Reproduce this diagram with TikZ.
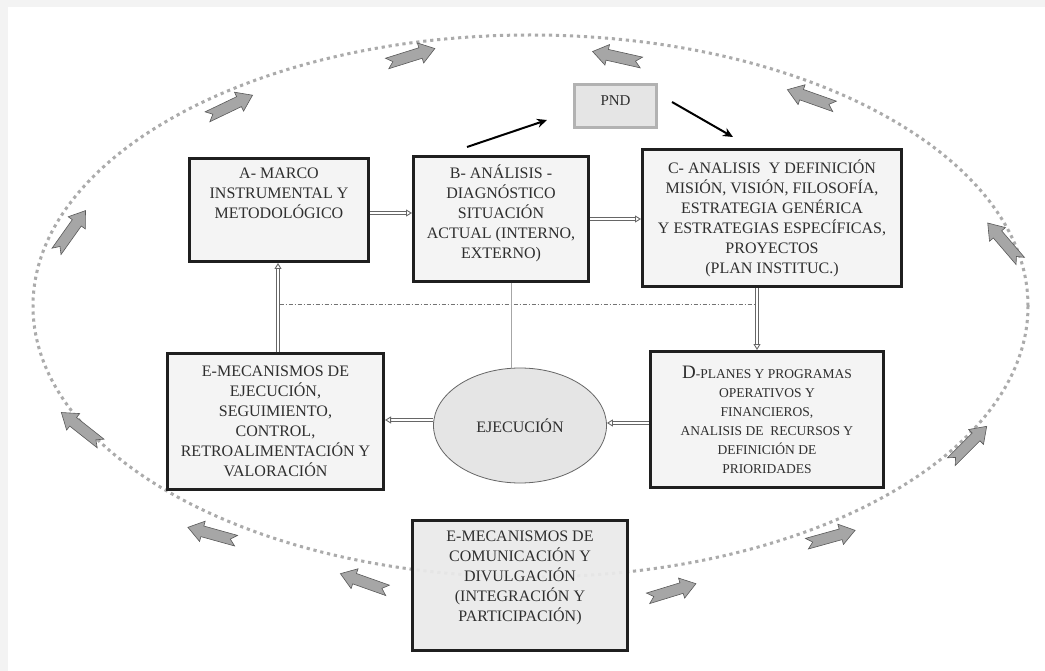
\documentclass[tikz,border=0pt]{standalone}
\usepackage{fontspec}
\setmainfont{Liberation Serif}
\usetikzlibrary{arrows.meta,shapes.geometric,calc}
\definecolor{ink}{HTML}{2E2E2E}
\definecolor{boxfill}{HTML}{F4F4F4}
\definecolor{darkfill}{HTML}{EAEAEA}
\definecolor{ringgray}{HTML}{ABABAB}
\definecolor{pagegray}{HTML}{F3F3F3}
\tikzset{
  txt/.style={font=\fontsize{16}{20}\selectfont, text=ink, align=center, inner sep=0pt},
  smalltxt/.style={font=\fontsize{13.5}{19}\selectfont, text=ink, align=center, inner sep=0pt},
  stagebox/.style={draw=black!88, line width=3pt, fill=boxfill, inner sep=0pt},
  dbl/.style={draw=black!60, line width=0.9pt, double=white, double distance=2pt,
    -{Triangle[open,length=6pt,width=7pt]}},
  blk/.style={draw=black, line width=2pt, -{Stealth[length=10pt,width=9pt]}},
  dotring/.style={draw=ringgray, line width=3pt, dash pattern=on 3.2pt off 3.8pt},
  arrowfill/.style={fill=black!35, draw=black!65, line width=0.6pt, line join=miter},
  flowarr/.pic={\path[arrowfill] (-25,-5.5) -- (10,-5.5) -- (10,-10.5) -- (25,0) -- (10,10.5)
     -- (10,5.5) -- (-25,5.5) -- (-19,0) -- cycle;}
}
\begin{document}
\begin{tikzpicture}[x=1pt,y=-1pt]
\useasboundingbox (0,0) rectangle (1045,671);
\fill[pagegray] (0,0) rectangle (1045,671);
\fill[white] (8,7) rectangle (1045,671);

% surrounding dotted cycle
\draw[dotring] (530.5,306) ellipse [x radius=497.5, y radius=271];

% direction arrows along the cycle
\pic[rotate=54.6]  at (71,231)  {flowarr};
\pic[rotate=25.6]  at (230,106) {flowarr};
\pic[rotate=17.4]  at (411,56)  {flowarr};
\pic[rotate=167.3] at (617,57)  {flowarr};
\pic[rotate=160.5] at (811,98)  {flowarr};
\pic[rotate=130.6] at (1004,242) {flowarr};
\pic[rotate=45]    at (969,444) {flowarr};
\pic[rotate=15.5]  at (831,537) {flowarr};
\pic[rotate=17]    at (672,591) {flowarr};
\pic[rotate=160.5] at (364,582) {flowarr};
\pic[rotate=164.5] at (212,534) {flowarr};
\pic[rotate=141.7] at (81,428)  {flowarr};

% stages
\node[stagebox, minimum width=179, minimum height=103] (A) at (279,210) {};
\node[txt, anchor=north] (Atxt) at ([yshift=-11pt]A.north)
  {A- MARCO\\INSTRUMENTAL Y\\METODOLÓGICO};

\node[stagebox, minimum width=175, minimum height=125] (B) at (501,219) {};
\node[txt] (Btxt) at ([yshift=6pt]B.center)
  {B- ANÁLISIS -\\DIAGNÓSTICO\\SITUACIÓN\\ACTUAL (INTERNO,\\EXTERNO)};

\node[stagebox, minimum width=259, minimum height=137, txt] (C) at (772,218)
  {C- ANALISIS\ \ Y DEFINICIÓN\\MISIÓN, VISIÓN, FILOSOFÍA,\\ESTRATEGIA GENÉRICA\\
   Y ESTRATEGIAS ESPECÍFICAS,\\PROYECTOS\\(PLAN INSTITUC.)};

\node[stagebox, minimum width=233, minimum height=136, smalltxt] (D) at (767,419.5)
  {{\fontsize{19}{19}\selectfont D}-PLANES Y PROGRAMAS\\OPERATIVOS Y\\FINANCIEROS,\\
   ANALISIS DE\ \ RECURSOS Y\\DEFINICIÓN DE\\PRIORIDADES};

\node[stagebox, minimum width=216, minimum height=136, txt] (E1) at (275.5,421.5)
  {E-MECANISMOS DE\\EJECUCIÓN,\\SEGUIMIENTO,\\CONTROL,\\RETROALIMENTACIÓN Y\\VALORACIÓN};

\node[ellipse, draw=black!60, line width=0.8pt, fill=black!10, minimum width=173,
      minimum height=115, inner sep=0pt, txt] (Ell) at (520,425.5) {EJECUCIÓN};

\node[stagebox, fill=darkfill, fill opacity=0.92, text opacity=1,
      minimum width=215, minimum height=130] (E2) at (520,585.5) {};
\node[txt] (E2txt) at ([yshift=8pt]E2.center)
  {E-MECANISMOS DE\\COMUNICACIÓN Y\\DIVULGACIÓN\\(INTEGRACIÓN Y\\PARTICIPACIÓN)};

\node[draw=black!30, line width=3pt, fill=black!10, minimum width=82,
      minimum height=43, inner sep=0pt] (PND) at (615.5,106) {};
\node[txt, font=\fontsize{15}{16}\selectfont] (PNDtxt) at ([yshift=5pt]PND.center) {PND};

% links to and from the national plan
\draw[blk] ([shift={(-34,-8)}]B.north) -- ([shift={(-26,14)}]PND.west);
\draw[blk] ([shift={(14,-4)}]PND.east) -- ([shift={(-39,-11)}]C.north);

% main sequence
\draw[dbl] ([yshift=-3pt]A.east) -- ([yshift=-3pt]A.east -| B.west);
\draw[dbl] (B.east) -- (B.east -| C.west);
\draw[dbl] ([xshift=-15pt]C.south) -- ([xshift=-15pt]C.south |- D.north);
\draw[dbl] ([yshift=-3.5pt]D.west) -- ([yshift=-3.5pt]D.west -| Ell.east);
\draw[dbl] ([yshift=5.5pt]Ell.west) -- ([yshift=5.5pt]Ell.west -| E1.east);
\draw[dbl] ([xshift=2.5pt]E1.north) -- ([xshift=2.5pt]E1.north |- A.south);

% feedback line and execution link
\coordinate (fbL) at ([xshift=4pt]E1.north |- 0,304);
\coordinate (fbR) at ([xshift=-16pt]C.south |- 0,304);
\draw[black!55, line width=0.5pt, dash pattern=on 4pt off 2pt on 1pt off 2pt] (fbL) -- (fbR);
\draw[black!35, line width=0.4pt] ([xshift=10pt]B.south) -- ([xshift=10pt]B.south |- Ell.north);
\end{tikzpicture}
\end{document}
